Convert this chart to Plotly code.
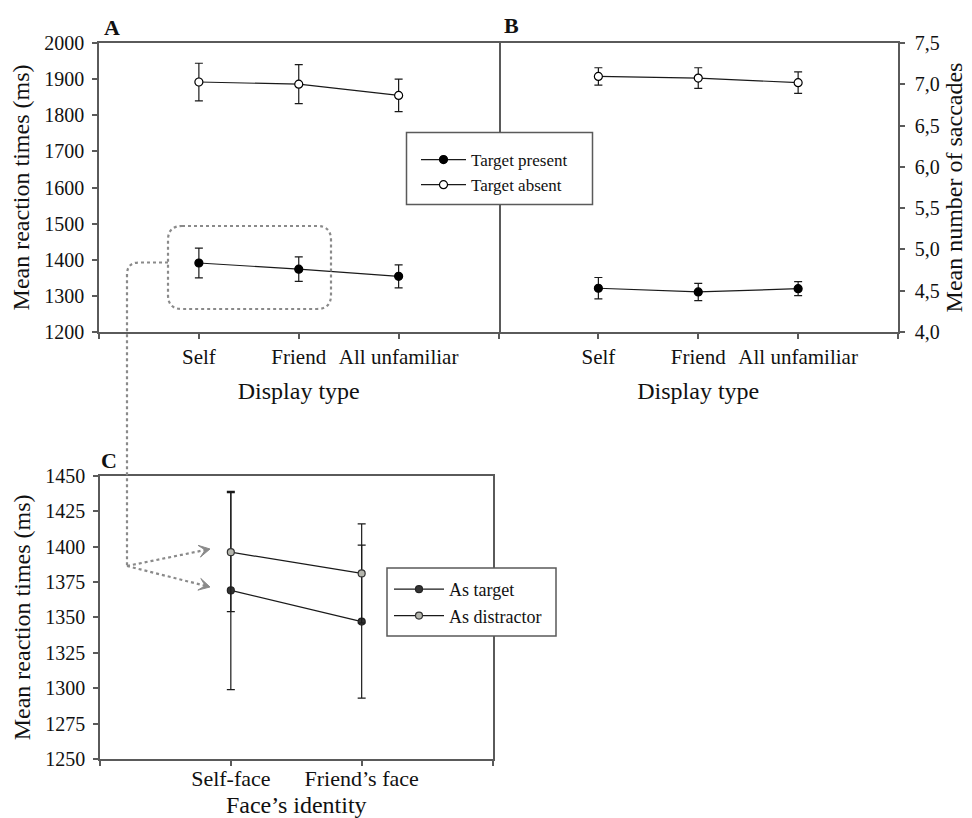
import math
import plotly.graph_objects as go

# ---------------- data ----------------
display_types = ["Self", "Friend", "All unfamiliar"]
rt_present = [1391, 1374, 1354]
rt_present_err = [41, 34, 32]
rt_absent = [1892, 1886, 1855]
rt_absent_err = [52, 54, 45]

sacc_present = [4.53, 4.485, 4.525]
sacc_present_err = [0.13, 0.105, 0.085]
sacc_absent = [7.095, 7.075, 7.02]
sacc_absent_err = [0.105, 0.125, 0.13]

face_identity = ["Self-face", "Friend\u2019s face"]
rt_as_target = [1369, 1347]
rt_as_target_err = [70, 54]
rt_as_distractor = [1396, 1381]
rt_as_distractor_err = [42, 35]

rt_ticks_ab = list(range(1200, 2001, 100))
sacc_ticks = [4.0, 4.5, 5.0, 5.5, 6.0, 6.5, 7.0, 7.5]
rt_ticks_c = list(range(1250, 1451, 25))

# ---------------- geometry helpers ----------------
# page body has an 8px margin, so the figure starts at (8, 8) of the window
OX, OY = 8, 8
W, H = 964, 810
FONT = "Liberation Serif, Times New Roman, serif"
AXC = "#5a5a5a"
LINEC = "#1a1a1a"


def px(x):
    return (x - OX) / W


def py(y):
    return 1 - (y - OY) / H


def P(x, y):
    return f"{px(x):.5f},{py(y):.5f}"


xpos_ab = list(range(1, len(display_types) + 1))
xpos_c = list(range(1, len(face_identity) + 1))

fig = go.Figure()


def add_series(x, y, err, name, xa, ya, mcolor, mline, legend, size=8):
    fig.add_trace(go.Scatter(
        x=x, y=y, name=name, mode="lines+markers",
        xaxis=xa, yaxis=ya, legend=legend if legend else "legend",
        line=dict(color=LINEC, width=1.2),
        marker=dict(size=size, color=mcolor, line=dict(color=mline, width=1.2)),
        error_y=dict(type="data", array=err, visible=True, color=LINEC,
                     thickness=1.2, width=4),
        showlegend=legend is not None,
    ))


add_series(xpos_ab, rt_present, rt_present_err, "Target present", "x", "y", "black", "black", "legend")
add_series(xpos_ab, rt_absent, rt_absent_err, "Target absent", "x", "y", "white", "black", "legend")
add_series(xpos_ab, sacc_present, sacc_present_err, "Target present", "x2", "y2", "black", "black", None)
add_series(xpos_ab, sacc_absent, sacc_absent_err, "Target absent", "x2", "y2", "white", "black", None)
add_series(xpos_c, rt_as_target, rt_as_target_err, "As target", "x3", "y3", "#333333", "#222222", "legend2", size=7)
add_series(xpos_c, rt_as_distractor, rt_as_distractor_err, "As distractor", "x3", "y3", "#b4b5ad", "#333333", "legend2", size=7)

tickfont_y = dict(family=FONT, size=20, color="#111")
tickfont_x = dict(family=FONT, size=21, color="#111")
tickfont_xc = dict(family=FONT, size=22, color="#111")
titlefont = dict(family=FONT, size=24, color="#111")

axis_common = dict(showline=True, linecolor=AXC, linewidth=1.5,
                   ticks="outside", tickcolor=AXC, tickwidth=1.5, ticklen=5,
                   showgrid=False, zeroline=False, automargin=False)

top_ab, bot_ab = 43, 332
fig.update_layout(
    width=W, height=H,
    margin=dict(l=0, r=0, t=0, b=0),
    paper_bgcolor="white", plot_bgcolor="white",
    separators=",.",
    font=dict(family=FONT, color="#111"),
    xaxis=dict(domain=[px(99), px(498.5)], range=[0, 4], tickvals=[0] + xpos_ab + [4],
               ticktext=[""] + display_types + [""], tickfont=tickfont_x, mirror=True,
               title=dict(text="Display type", font=titlefont, standoff=14),
               anchor="y", **axis_common),
    yaxis=dict(domain=[py(bot_ab), py(top_ab)], range=[1200, 2000], tickvals=rt_ticks_ab,
               tickfont=tickfont_y, ticklabelstandoff=4, mirror=True,
               title=dict(text="Mean reaction times (ms)", font=titlefont, standoff=8),
               anchor="x", **axis_common),
    xaxis2=dict(domain=[px(498.5), px(898)], range=[0, 4], tickvals=[0] + xpos_ab + [4],
                ticktext=[""] + display_types + [""], tickfont=tickfont_x, mirror=True,
                title=dict(text="Display type", font=titlefont, standoff=14),
                anchor="y2", **axis_common),
    yaxis2=dict(domain=[py(bot_ab), py(top_ab)], range=[4.0, 7.5], tickvals=sacc_ticks,
                tickformat=".1f", side="right", tickfont=tickfont_y, ticklabelstandoff=6,
                mirror=False,
                title=dict(text="Mean number of saccades", font=titlefont, standoff=6),
                anchor="x2", **axis_common),
    xaxis3=dict(domain=[px(100), px(492.5)], range=[0, 3], tickvals=[0] + xpos_c + [3],
                ticktext=[""] + face_identity + [""], tickfont=tickfont_xc, mirror=True,
                ticklabelstandoff=-6,
                title=dict(text="Face\u2019s identity", font=titlefont, standoff=16),
                anchor="y3", **axis_common),
    yaxis3=dict(domain=[py(759), py(475.7)], range=[1250, 1450], tickvals=rt_ticks_c,
                tickfont=tickfont_y, ticklabelstandoff=4, mirror=True,
                title=dict(text="Mean reaction times (ms)", font=titlefont, standoff=8),
                anchor="x3", **axis_common),
    legend=dict(x=px(416), y=py(142), xanchor="left", yanchor="top",
                bgcolor="rgba(0,0,0,0)", borderwidth=0,
                font=dict(family=FONT, size=17, color="#111"), tracegroupgap=0,
                itemwidth=45),
    legend2=dict(x=px(389), y=py(571), xanchor="left", yanchor="top",
                 bgcolor="rgba(0,0,0,0)", borderwidth=0,
                 font=dict(family=FONT, size=18, color="#111"), tracegroupgap=0,
                 itemwidth=50),
)

shapes = []
# legend boxes
shapes.append(dict(type="rect", xref="paper", yref="paper", x0=px(406.5), x1=px(592.5),
                   y0=py(204.5), y1=py(132.5), line=dict(color=AXC, width=1.5),
                   fillcolor="white", layer="above"))
shapes.append(dict(type="rect", xref="paper", yref="paper", x0=px(387), x1=px(556),
                   y0=py(636), y1=py(568), line=dict(color=AXC, width=1.5),
                   fillcolor="white", layer="above"))

dot = dict(color="#8a8a8a", width=2.2, dash="dot")
# rounded dotted rectangle
x0, x1, y0, y1, r = 168, 331, 226, 309, 14
rr = (f"M {P(x0 + r, y0)} L {P(x1 - r, y0)} Q {P(x1, y0)} {P(x1, y0 + r)} "
      f"L {P(x1, y1 - r)} Q {P(x1, y1)} {P(x1 - r, y1)} L {P(x0 + r, y1)} "
      f"Q {P(x0, y1)} {P(x0, y1 - r)} L {P(x0, y0 + r)} Q {P(x0, y0)} {P(x0 + r, y0)}")
shapes.append(dict(type="path", xref="paper", yref="paper", path=rr, line=dot, layer="above"))
# connector
cx, cy, r2 = 127, 262.5, 12
conn = (f"M {P(x0, cy)} L {P(cx + r2, cy)} Q {P(cx, cy)} {P(cx, cy + r2)} L {P(cx, 566)}")
shapes.append(dict(type="path", xref="paper", yref="paper", path=conn, line=dot, layer="above"))
# arrows
for tip in [(210, 549), (210, 587)]:
    dx, dy = tip[0] - cx, tip[1] - 566
    L = math.hypot(dx, dy)
    ux, uy = dx / L, dy / L
    nx, ny = -uy, ux
    end = (tip[0] - ux * 5, tip[1] - uy * 5)
    shapes.append(dict(type="path", xref="paper", yref="paper",
                       path=f"M {P(cx, 566)} L {P(*end)}", line=dot, layer="above"))
    hl, hw = 11, 6
    a = (tip[0] - ux * hl + nx * hw, tip[1] - uy * hl + ny * hw)
    b = (tip[0] - ux * hl - nx * hw, tip[1] - uy * hl - ny * hw)
    m = (tip[0] - ux * hl * 0.45, tip[1] - uy * hl * 0.45)
    shapes.append(dict(type="path", xref="paper", yref="paper",
                       path=f"M {P(*a)} L {P(*tip)} L {P(*b)} L {P(*m)} Z",
                       line=dict(color="#8a8a8a", width=1), fillcolor="#8a8a8a", layer="above"))

fig.update_layout(shapes=shapes)

letters = [("A", 112, 27), ("B", 511, 25), ("C", 109, 460)]
for t, x, y in letters:
    fig.add_annotation(text=f"<b>{t}</b>", x=px(x), y=py(y), xref="paper", yref="paper",
                       xanchor="center", yanchor="middle", showarrow=False,
                       font=dict(family=FONT, size=22, color="#111"))

fig.write_html("out.html")
